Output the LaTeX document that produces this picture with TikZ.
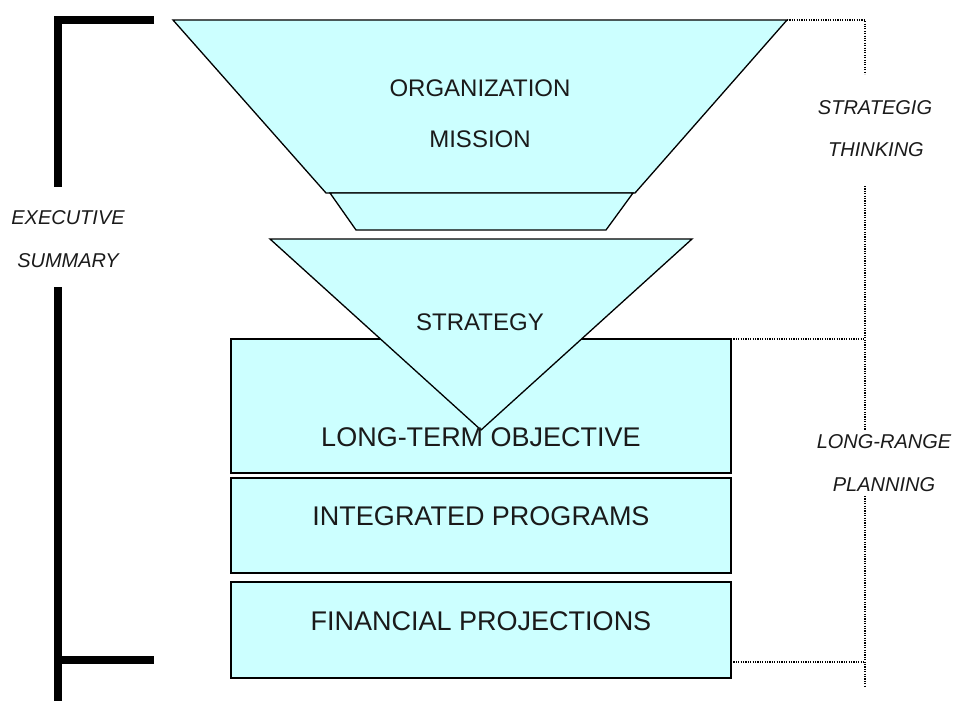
\documentclass[tikz,border=0pt]{standalone}
\usepackage{fontspec}
\setmainfont{Liberation Sans}
\definecolor{boxfill}{HTML}{CCFFFF}
\definecolor{txt}{HTML}{1A1A1A}
\begin{document}
\begin{tikzpicture}[x=1pt,y=-1pt,
  shapeline/.style={draw=black,line width=1.3pt,fill=boxfill,line join=miter},
  boxline/.style={draw=black,line width=1.6pt,fill=boxfill},
  bracket/.style={line width=8pt,line join=miter},
  dotline/.style={line width=1.1pt,dash pattern=on 1.1pt off 1.3pt},
  toplab/.style={font=\fontsize{24}{28}\selectfont,text=txt,inner sep=0pt},
  boxlab/.style={font=\fontsize{27}{32}\selectfont,text=txt,inner sep=0pt},
  sidelab/.style={font=\fontsize{20}{24}\selectfont\itshape,text=txt,inner sep=0pt}]
\useasboundingbox (0,0) rectangle (955,701);
% left bracket
\draw[bracket] (154,20) -- (58,20) -- (58,187);
\draw[bracket] (58,287) -- (58,701);
\draw[bracket] (58,660) -- (154,660);
% rectangles
\draw[boxline] (231,339) rectangle (731,473);
\draw[boxline] (231,478) rectangle (731,573);
\draw[boxline] (231,582) rectangle (731,678);
% funnel shapes
\draw[shapeline] (173,20) -- (787,20) -- (635,193) -- (326,193) -- cycle;
\draw[shapeline] (330,193) -- (633,193) -- (606,230) -- (356,230) -- cycle;
\draw[shapeline] (270,239) -- (692,239) -- (481,430) -- cycle;
% dotted guides
\draw[dotline] (787,20) -- (865,20) -- (865,74);
\draw[dotline] (865,186) -- (865,430);
\draw[dotline] (731,339) -- (865,339);
\draw[dotline] (865,496) -- (865,686);
\draw[dotline] (731,662) -- (865,662);
% texts
\node[toplab] (org) at (480,88) {ORGANIZATION};
\node[toplab] (mis) at (480,139) {MISSION};
\node[toplab] (str) at (480,322) {STRATEGY};
\node[boxlab] (lto) at (481,437.5) {LONG-TERM OBJECTIVE};
\node[boxlab] (ip) at (481,516.5) {INTEGRATED PROGRAMS};
\node[boxlab] (fp) at (481,621) {FINANCIAL PROJECTIONS};
\node[sidelab] (ex1) at (68,217.5) {EXECUTIVE};
\node[sidelab] (ex2) at (68,260.5) {SUMMARY};
\node[sidelab] (st1) at (875,107.5) {STRATEGIG};
\node[sidelab] (st2) at (876,150) {THINKING};
\node[sidelab] (lr1) at (884,441.5) {LONG-RANGE};
\node[sidelab] (lr2) at (884,485) {PLANNING};
\end{tikzpicture}
\end{document}
